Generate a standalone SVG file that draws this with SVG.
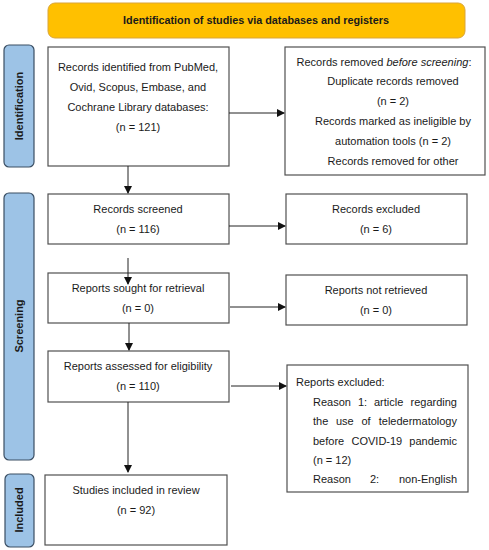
<svg xmlns="http://www.w3.org/2000/svg" width="489" height="550" viewBox="0 0 489 550">
<style>
.box{fill:#fff;stroke:#505050;stroke-width:1.2}
.side{fill:#9DC3E6;stroke:#3A4E63;stroke-width:1.2}
.t{font-family:"Liberation Sans",Arial,sans-serif;font-size:11px;fill:#1a1a1a}
.c{text-anchor:middle}
.e{text-anchor:end}
.b{font-weight:bold}
.conn line{stroke:#222;stroke-width:1}
</style>
<defs>
<marker id="ah" markerWidth="8" markerHeight="8" refX="7" refY="4" orient="auto" markerUnits="userSpaceOnUse">
<path d="M0,0 L8,4 L0,8 Z" fill="#111"/>
</marker>
</defs>
<rect width="489" height="550" fill="#fff"/>
<g id="banner">
<rect x="48" y="3" width="417" height="35" rx="7" fill="#FFC000" stroke="#D9A53A" stroke-width="1"/>
<text class="t c b" x="256" y="24" style="font-size:10.8px">Identification of studies via databases and registers</text>
</g>
<g id="side-identification">
<rect class="side" x="4" y="45" width="30" height="122" rx="5"/>
<text class="t c b" transform="translate(23,106) rotate(-90)">Identification</text>
</g>
<g id="side-screening">
<rect class="side" x="4" y="193" width="30" height="267" rx="5"/>
<text class="t c b" transform="translate(23,326) rotate(-90)">Screening</text>
</g>
<g id="side-included">
<rect class="side" x="5" y="474" width="29" height="73" rx="5"/>
<text class="t c b" transform="translate(23,510) rotate(-90)">Included</text>
</g>
<g id="records-identified">
<rect class="box" x="48" y="47" width="181" height="119"/>
<text class="t c" x="138" y="71">Records identified from PubMed,</text>
<text class="t c" x="138" y="91">Ovid, Scopus, Embase, and</text>
<text class="t c" x="138" y="111">Cochrane Library databases:</text>
<text class="t c" x="138" y="131">(n = 121)</text>
</g>
<g id="records-removed">
<rect class="box" x="285" y="47" width="200" height="128"/>
<text class="t c" x="384" y="66">Records removed <tspan font-style="italic">before screening</tspan>:</text>
<text class="t c" x="393" y="85">Duplicate records removed</text>
<text class="t c" x="393" y="105">(n = 2)</text>
<text class="t c" x="393" y="125">Records marked as ineligible by</text>
<text class="t c" x="393" y="145">automation tools (n = 2)</text>
<text class="t c" x="393" y="165">Records removed for other</text>
</g>
<g id="records-screened">
<rect class="box" x="48" y="194" width="181" height="50"/>
<text class="t c" x="138" y="213">Records screened</text>
<text class="t c" x="138" y="233">(n = 116)</text>
</g>
<g id="records-excluded">
<rect class="box" x="286" y="194" width="181" height="50"/>
<text class="t c" x="376" y="213">Records excluded</text>
<text class="t c" x="376" y="233">(n = 6)</text>
</g>
<g id="reports-sought">
<rect class="box" x="48" y="273" width="181" height="50"/>
<text class="t c" x="138" y="292">Reports sought for retrieval</text>
<text class="t c" x="138" y="312">(n = 0)</text>
</g>
<g id="reports-not-retrieved">
<rect class="box" x="286" y="275" width="181" height="50"/>
<text class="t c" x="376" y="294">Reports not retrieved</text>
<text class="t c" x="376" y="314">(n = 0)</text>
</g>
<g id="reports-assessed">
<rect class="box" x="48" y="351" width="181" height="51"/>
<text class="t c" x="138" y="370">Reports assessed for eligibility</text>
<text class="t c" x="138" y="390">(n = 110)</text>
</g>
<g id="reports-excluded">
<rect class="box" x="287" y="365" width="181" height="127"/>
<text class="t" x="296" y="386">Reports excluded:</text>
<text class="t" x="313" y="406">Reason</text>
<text class="t" x="358" y="406">1:</text>
<text class="t" x="374" y="406">article</text>
<text class="t e" x="457" y="406">regarding</text>
<text class="t" x="313" y="425">the</text>
<text class="t" x="336" y="425">use</text>
<text class="t" x="361.5" y="425">of</text>
<text class="t e" x="457" y="425">teledermatology</text>
<text class="t" x="313" y="445">before</text>
<text class="t" x="351.5" y="445">COVID-19</text>
<text class="t e" x="457" y="445">pandemic</text>
<text class="t" x="313" y="464">(n = 12)</text>
<text class="t" x="313" y="483">Reason</text>
<text class="t" x="370" y="483">2:</text>
<text class="t e" x="457" y="483">non-English</text>
</g>
<g id="studies-included">
<rect class="box" x="45" y="475" width="182" height="70"/>
<text class="t c" x="136" y="494">Studies included in review</text>
<text class="t c" x="136" y="514">(n = 92)</text>
</g>
<g class="conn" id="connectors">
<line x1="229" y1="113" x2="284" y2="113" marker-end="url(#ah)"/>
<line x1="128" y1="166" x2="128" y2="193" marker-end="url(#ah)"/>
<line x1="229" y1="226" x2="285" y2="226" marker-end="url(#ah)"/>
<line x1="128" y1="258" x2="128" y2="284" marker-end="url(#ah)"/>
<line x1="230" y1="307" x2="285" y2="307" marker-end="url(#ah)"/>
<line x1="129" y1="323" x2="129" y2="350" marker-end="url(#ah)"/>
<line x1="231" y1="386" x2="286" y2="386" marker-end="url(#ah)"/>
<line x1="128" y1="402" x2="128" y2="472" marker-end="url(#ah)"/>
</g>
</svg>
